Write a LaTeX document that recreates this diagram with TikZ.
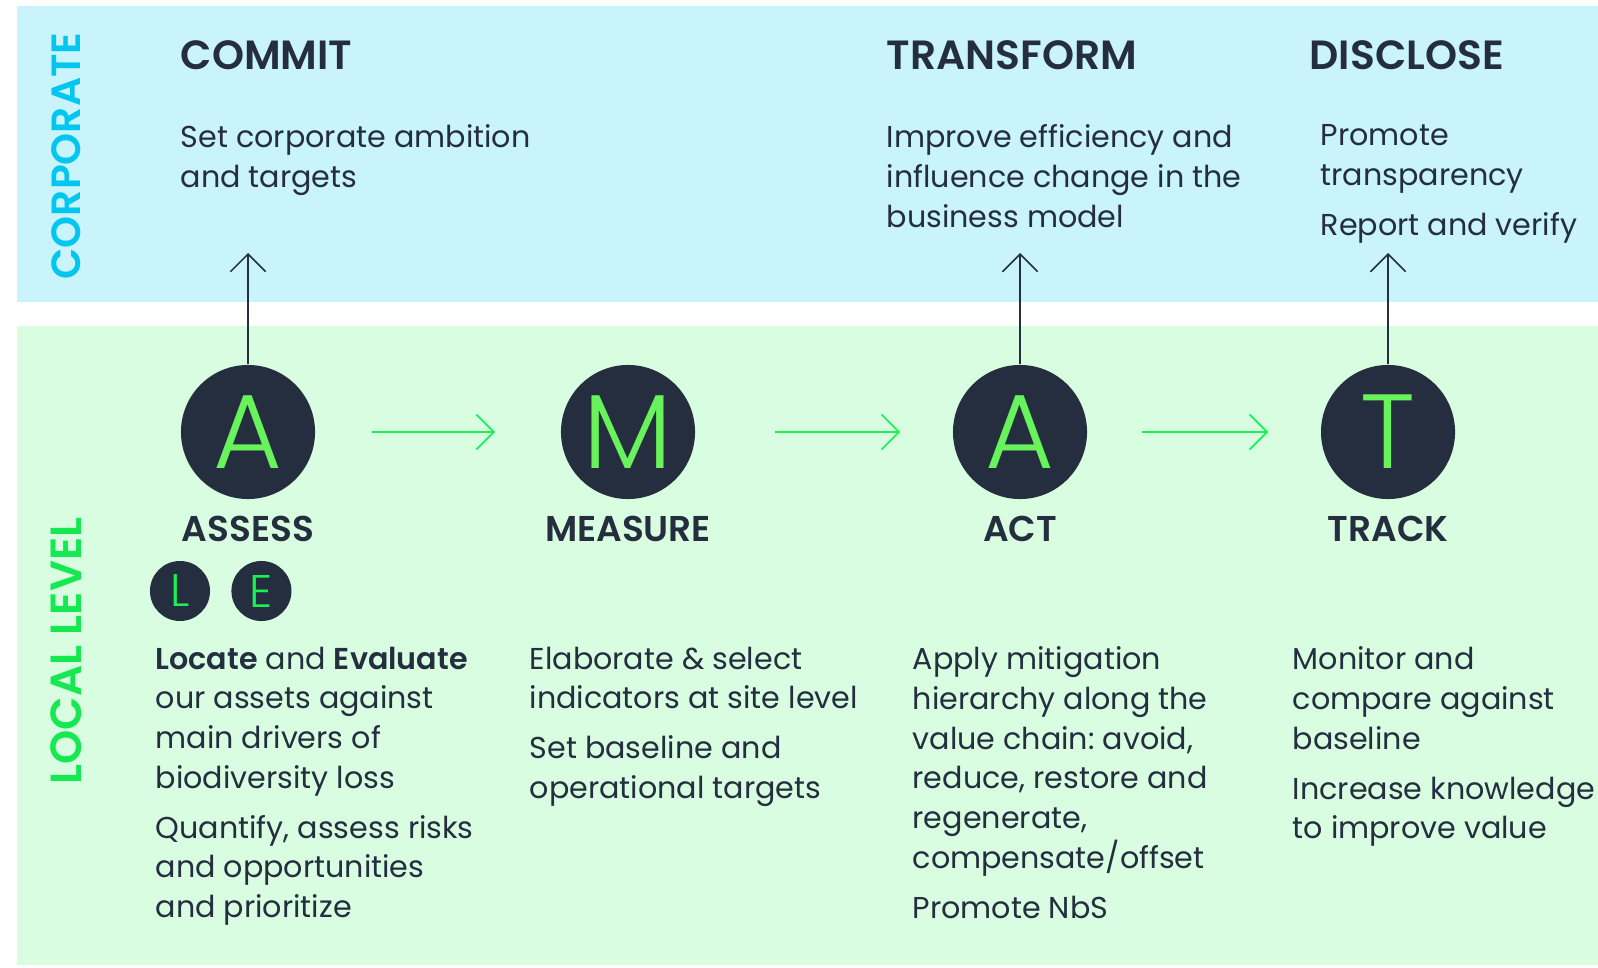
\documentclass[tikz,border=0pt]{standalone}
\usepackage{fontspec}
\setmainfont{Poppins}[BoldFont={Poppins SemiBold}]
\newfontfamily\lightfont{Poppins Light}
\usetikzlibrary{arrows.meta, positioning}
\definecolor{corpblue}{RGB}{201,244,252}
\definecolor{localgreen}{RGB}{216,253,225}
\definecolor{navy}{RGB}{36,46,62}
\definecolor{lettergreen}{RGB}{104,242,92}
\definecolor{flowgreen}{RGB}{24,242,84}
\definecolor{corpcyan}{RGB}{0,198,240}
\definecolor{levelgreen}{RGB}{22,232,82}
\frenchspacing

\begin{document}
\begin{tikzpicture}[
  x=0.01cm, y=-0.01cm,
  stage/.style={circle, fill=navy, minimum size=1.34cm, inner sep=0pt, text=lettergreen, font=\lightfont\fontsize{30}{30}\selectfont},
  substage/.style={circle, fill=navy, minimum size=0.6cm, inner sep=0pt, text=flowgreen, font=\lightfont\fontsize{13}{13}\selectfont},
  stagename/.style={inner sep=0pt, text=navy, font=\bfseries\fontsize{10.2}{12}\selectfont},
  heading/.style={anchor=west, inner sep=0pt, text=navy, font=\bfseries\fontsize{11.6}{14}\selectfont},
  body/.style={anchor=north west, inner sep=0pt, align=left, text=navy, font=\fontsize{8.58}{11.3}\selectfont},
  sidelabel/.style={rotate=90, inner sep=0pt, font=\bfseries\fontsize{11.6}{13}\selectfont},
  flow/.style={-{Straight Barb[length=5pt, width=10pt]}, flowgreen, line width=0.5pt},
  uplink/.style={-{Straight Barb[length=5pt, width=10pt]}, navy, line width=0.45pt},
]
  \useasboundingbox (0,0) rectangle (1598,967);
  \fill[white] (0,0) rectangle (1598,967);
  \fill[corpblue] (17,6) rectangle (1598,302);
  \fill[localgreen] (17,326) rectangle (1598,965);

  \node[sidelabel, text=corpcyan] (corporate) at (66,156) {CORPORATE};
  \node[sidelabel, text=levelgreen, font=\bfseries\fontsize{12.4}{14}\selectfont] (local) at (66,651) {LOCAL LEVEL};

  \node[heading] (commit) at (180,55) {COMMIT};
  \node[heading] (transform) at (886,55) {TRANSFORM};
  \node[heading] (disclose) at (1309,55) {DISCLOSE};

  \node[body] (committxt) at (180,124) {Set corporate ambition\\and targets};
  \node[body] (transformtxt) at (886,124) {Improve efficiency and\\influence change in the\\business model};
  \node[body] (disclosetxt) at (1320,124) {Promote\\transparency\\[2.9pt]Report and verify};

  \node[stage] (assess) at (248,432) {A};
  \node[stage] (measure) at (628,432) {M};
  \node[stage] (act) at (1020,432) {A};
  \node[stage] (track) at (1388,432) {T};

  \node[stagename, below=0.16cm of assess] (assesslbl) {ASSESS};
  \node[stagename, below=0.16cm of measure] (measurelbl) {MEASURE};
  \node[stagename, below=0.16cm of act] (actlbl) {ACT};
  \node[stagename, below=0.16cm of track] (tracklbl) {TRACK};

  \node[substage] (locate) at (180,591) {L};
  \node[substage, right=0.2cm of locate] (evaluate) {E};

  \node[body] (assesstxt) at (155,646) {\textbf{Locate} and \textbf{Evaluate}\\our assets against\\main drivers of\\biodiversity loss\\[2.9pt]Quantify, assess risks\\and opportunities\\and prioritize};
  \node[body] (measuretxt) at (529,646) {Elaborate \& select\\indicators at site level\\[2.9pt]Set baseline and\\operational targets};
  \node[body] (acttxt) at (912,646) {Apply mitigation\\hierarchy along the\\value chain: avoid,\\reduce, restore and\\regenerate,\\compensate/offset\\[2.9pt]Promote NbS};
  \node[body] (tracktxt) at (1292,646) {Monitor and\\compare against\\baseline\\[2.9pt]Increase knowledge\\to improve value};

  \coordinate (corpedge) at (0,253);

  \draw[flow, shorten <=0.56cm, shorten >=0.65cm] (assess) -- (measure);
  \draw[flow, shorten <=0.79cm, shorten >=0.52cm] (measure) -- (act);
  \draw[flow, shorten <=0.54cm, shorten >=0.52cm] (act) -- (track);
  \draw[uplink] (assess) -- (assess |- corpedge);
  \draw[uplink] (act) -- (act |- corpedge);
  \draw[uplink] (track) -- (track |- corpedge);
\end{tikzpicture}
\end{document}
